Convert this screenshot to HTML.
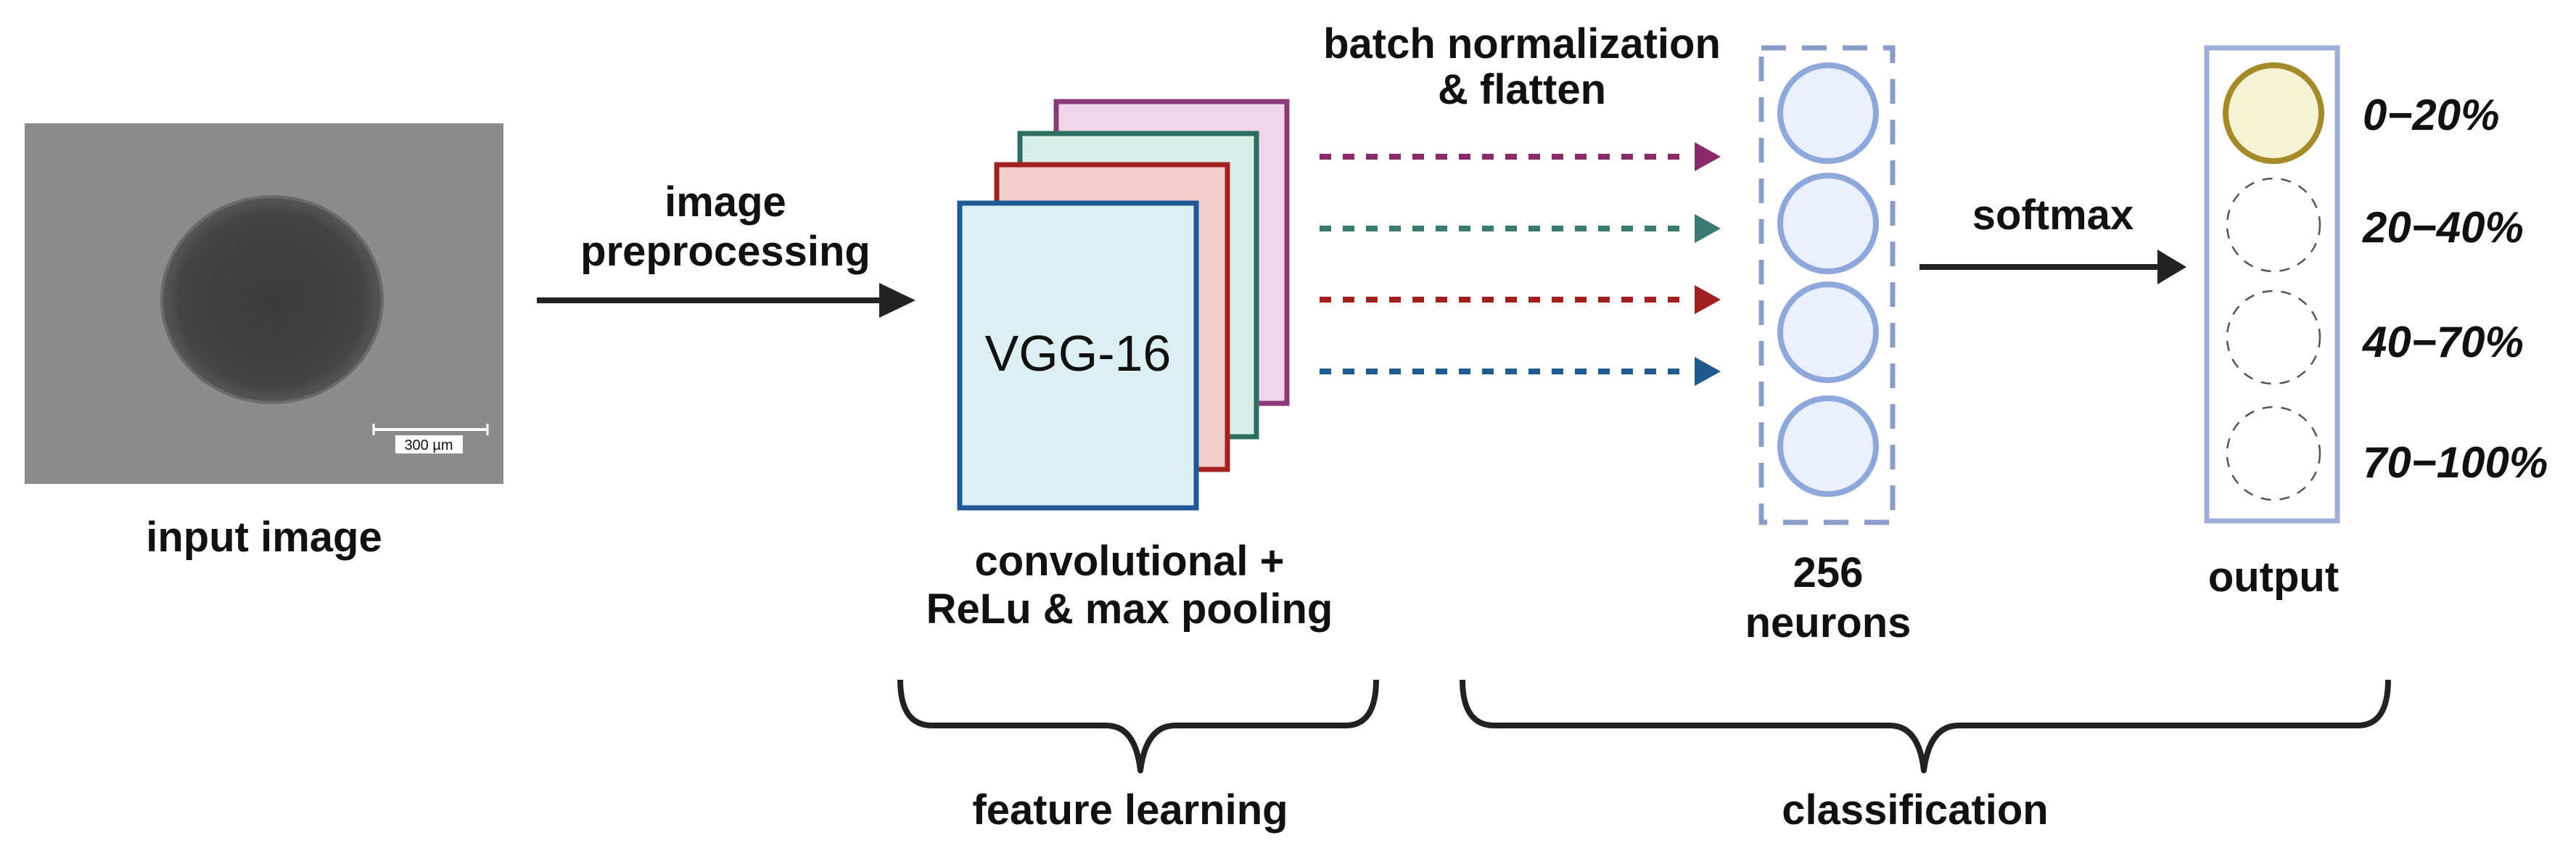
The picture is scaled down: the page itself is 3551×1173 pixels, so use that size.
<!DOCTYPE html>
<html><head><meta charset="utf-8"><style>
html,body{margin:0;padding:0;background:#fff;}
svg{display:block;}
text{font-family:"Liberation Sans",Arial,sans-serif;font-weight:bold;fill:#111;}
</style></head><body>
<svg width="3551" height="1173" viewBox="0 0 3551 1173" xmlns="http://www.w3.org/2000/svg">
<defs>
<radialGradient id="sph" cx="0.5" cy="0.5" r="0.5">
<stop offset="0" stop-color="#3a3a3a"/><stop offset="0.85" stop-color="#444"/><stop offset="1" stop-color="#5a5a5a"/>
</radialGradient>
</defs>
<!-- photo -->
<rect x="34" y="170" width="660" height="497" fill="#8b8b8b"/>
<ellipse cx="375" cy="413" rx="152" ry="142" fill="url(#sph)" stroke="#6a6a6a" stroke-width="4"/>
<ellipse cx="375" cy="413" rx="146" ry="136" fill="none" stroke="#505050" stroke-width="6" opacity="0.6"/>
<line x1="515" y1="592" x2="672" y2="592" stroke="#fff" stroke-width="4"/>
<line x1="515" y1="584" x2="515" y2="600" stroke="#fff" stroke-width="3"/>
<line x1="672" y1="584" x2="672" y2="600" stroke="#fff" stroke-width="3"/>
<rect x="545" y="600" width="93" height="25" fill="#fff"/>
<text x="591" y="620" font-size="20" text-anchor="middle" style="font-weight:normal">300 µm</text>
<text x="364" y="760" font-size="58" text-anchor="middle">input image</text>

<!-- arrow 1 -->
<line x1="740" y1="414" x2="1220" y2="414" stroke="#222" stroke-width="8"/>
<polygon points="1212,390 1262,414 1212,438" fill="#222"/>
<text x="1000" y="298" font-size="58" text-anchor="middle">image</text>
<text x="1000" y="366" font-size="58" text-anchor="middle">preprocessing</text>

<!-- stacked boxes -->
<rect x="1456" y="140" width="318" height="416" fill="#efd6e8" stroke="#8c3a7a" stroke-width="7"/>
<rect x="1406" y="184" width="326" height="418" fill="#d8efea" stroke="#2e6e60" stroke-width="7"/>
<rect x="1374" y="227" width="318" height="420" fill="#f3cfcc" stroke="#a32020" stroke-width="7"/>
<rect x="1323" y="280" width="326" height="420" fill="#dcf0f3" stroke="#1f5a96" stroke-width="7"/>
<text x="1486" y="511" font-size="70" text-anchor="middle" style="font-weight:normal">VGG-16</text>
<text x="1557" y="793" font-size="58" text-anchor="middle">convolutional +</text>
<text x="1557" y="859" font-size="58" text-anchor="middle">ReLu &amp; max pooling</text>

<!-- dotted arrows -->
<g stroke-width="8" stroke-dasharray="16 16">
<line x1="1819" y1="216" x2="2330" y2="216" stroke="#8b2a6b"/>
<line x1="1819" y1="315" x2="2330" y2="315" stroke="#3a7a72"/>
<line x1="1819" y1="413" x2="2330" y2="413" stroke="#a0201f"/>
<line x1="1819" y1="512" x2="2330" y2="512" stroke="#1f5a8f"/>
</g>
<polygon points="2336,196 2372,216 2336,236" fill="#8b2a6b"/>
<polygon points="2336,295 2372,315 2336,335" fill="#3a7a72"/>
<polygon points="2336,393 2372,413 2336,433" fill="#a0201f"/>
<polygon points="2336,492 2372,512 2336,532" fill="#1f5a8f"/>
<text x="2098" y="80" font-size="58" text-anchor="middle">batch normalization</text>
<text x="2098" y="143" font-size="58" text-anchor="middle">&amp; flatten</text>

<!-- neurons -->
<rect x="2428" y="66" width="181" height="654" fill="none" stroke="#8a9cc8" stroke-width="7" stroke-dasharray="34 22"/>
<g fill="#eaf1fc" stroke="#8fa8dc" stroke-width="8">
<circle cx="2520" cy="156" r="66"/>
<circle cx="2520" cy="308" r="66"/>
<circle cx="2520" cy="458" r="66"/>
<circle cx="2520" cy="615" r="66"/>
</g>
<text x="2520" y="809" font-size="58" text-anchor="middle">256</text>
<text x="2520" y="878" font-size="58" text-anchor="middle">neurons</text>

<!-- softmax arrow -->
<line x1="2646" y1="368" x2="2980" y2="368" stroke="#222" stroke-width="8"/>
<polygon points="2974,344 3014,368 2974,392" fill="#222"/>
<text x="2830" y="316" font-size="58" text-anchor="middle">softmax</text>

<!-- output -->
<rect x="3042" y="66" width="180" height="652" fill="none" stroke="#9fb0d8" stroke-width="7"/>
<circle cx="3134" cy="156" r="66" fill="#f5f2d5" stroke="#a58a2a" stroke-width="8"/>
<g fill="none" stroke="#555" stroke-width="2.5" stroke-dasharray="14 12">
<circle cx="3134" cy="310" r="64"/>
<circle cx="3134" cy="465" r="64"/>
<circle cx="3134" cy="625" r="64"/>
</g>
<g font-size="60">
<text x="3257" y="179" style="font-style:italic">0−20%</text>
<text x="3257" y="334" style="font-style:italic">20−40%</text>
<text x="3257" y="492" style="font-style:italic">40−70%</text>
<text x="3257" y="658" style="font-style:italic">70−100%</text>
</g>
<text x="3134" y="815" font-size="58" text-anchor="middle">output</text>

<!-- braces -->
<g fill="none" stroke="#222" stroke-width="8" stroke-linejoin="round">
<path d="M1241,937 Q1241,1000 1285,1000 L1525,1000 Q1565,1000 1572,1062 Q1580,1000 1620,1000 L1855,1000 Q1897,1000 1897,937"/>
<path d="M2016,937 Q2016,1000 2060,1000 L2605,1000 Q2645,1000 2652,1062 Q2660,1000 2700,1000 L3250,1000 Q3292,1000 3292,937"/>
</g>
<text x="1558" y="1136" font-size="58" text-anchor="middle">feature learning</text>
<text x="2640" y="1136" font-size="58" text-anchor="middle">classification</text>
</svg>
</body></html>
